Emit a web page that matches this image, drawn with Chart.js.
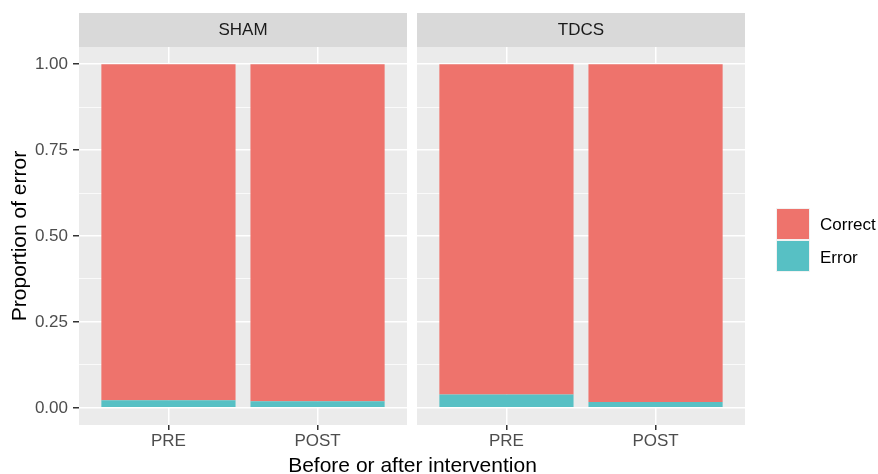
<!DOCTYPE html>
<html><head><meta charset="utf-8">
<script src="https://cdn.jsdelivr.net/npm/chart.js@4"></script>
<style>
html,body{margin:0;padding:0;background:#fff;width:878px;height:474px;overflow:hidden;font-family:"Liberation Sans",Arial,sans-serif;}
canvas{position:absolute;top:0;}
#c1{left:0;}
#c2{left:412px;}
.xt{position:absolute;left:0;width:825px;top:454px;text-align:center;font-size:21px;line-height:21px;color:#000;white-space:nowrap;}
.key{position:absolute;left:776px;width:32px;height:30px;border:1px solid #F2F2F2;}
.lt{position:absolute;left:820px;font-size:17px;line-height:20px;color:#000;white-space:nowrap;}
</style></head><body>
<canvas id="c1" width="412" height="474"></canvas>
<canvas id="c2" width="466" height="474"></canvas>
<div class="xt">Before or after intervention</div>
<div class="key" id="k1" style="top:208px;"></div>
<div class="key" id="k2" style="top:240px;"></div>
<div class="lt" style="top:215px;">Correct</div>
<div class="lt" style="top:248px;">Error</div>
<script>
const categories = ['PRE', 'POST'];
const facets = ['SHAM', 'TDCS'];
const shamError = [0.022, 0.019];
const shamCorrect = [0.978, 0.981];
const tdcsError = [0.039, 0.017];
const tdcsCorrect = [0.961, 0.983];
const yMajorTicks = [0, 0.25, 0.5, 0.75, 1];
const yMinorTicks = [0.125, 0.375, 0.625, 0.875];
const yTickLabels = ['0.00', '0.25', '0.50', '0.75', '1.00'];

const COLORS = { Error: '#57C0C4', Correct: '#EE736C' };
const FONT = '"Liberation Sans", Arial, sans-serif';
document.getElementById('k1').style.background = COLORS.Correct;
document.getElementById('k2').style.background = COLORS.Error;

function isMajor(v) { return yMajorTicks.some(m => Math.abs(m - v) < 1e-9); }

const panelBg = {
  id: 'panelBg',
  beforeDraw(chart) {
    const ctx = chart.ctx, a = chart.chartArea;
    ctx.save();
    ctx.fillStyle = '#EBEBEB';
    ctx.fillRect(a.left, a.top, a.right - a.left, a.bottom - a.top);
    const t = chart.titleBlock;
    if (t) {
      ctx.fillStyle = '#D9D9D9';
      ctx.fillRect(a.left, t.top, a.right - a.left, t.height);
    }
    ctx.restore();
  }
};

function makeChart(id, facet, errVals, corVals, showY, padding) {
  return new Chart(document.getElementById(id), {
    type: 'bar',
    data: {
      datasets: [
        { label: 'Error', data: categories.map((c, i) => ({ x: i + 1, y: errVals[i] })), backgroundColor: COLORS.Error, borderWidth: 0 },
        { label: 'Correct', data: categories.map((c, i) => ({ x: i + 1, y: corVals[i] })), backgroundColor: COLORS.Correct, borderWidth: 0 }
      ]
    },
    options: {
      responsive: false, animation: false, events: [],
      layout: { padding: padding },
      datasets: { bar: { barPercentage: 0.9, categoryPercentage: 1 } },
      plugins: {
        legend: { display: false }, tooltip: { enabled: false },
        title: { display: true, text: facet, fullSize: false, color: '#1A1A1A',
          font: { family: FONT, size: 17, weight: 'normal' }, padding: { top: 7, bottom: 6.6 } }
      },
      scales: {
        x: {
          type: 'linear', stacked: true, min: 0.4, max: 2.6, bounds: 'data', offset: false,
          afterBuildTicks(s) { s.ticks = categories.map((c, i) => ({ value: i + 1 })); },
          afterFit(s) { s.height = 49; },
          ticks: { callback: (v, i) => categories[i], color: '#4D4D4D', font: { family: FONT, size: 17 }, padding: 1, maxRotation: 0, autoSkip: false },
          grid: { offset: false, color: '#FFFFFF', lineWidth: 1.5, tickColor: '#333333', tickWidth: 1.5, tickLength: 5 },
          border: { display: false }
        },
        y: {
          type: 'linear', stacked: true, min: -0.05, max: 1.05, bounds: 'data',
          afterBuildTicks(s) { s.ticks = [...yMajorTicks, ...yMinorTicks].sort((a, b) => a - b).map(v => ({ value: v })); },
          afterFit(s) { s.width = showY ? 79 : 0; },
          title: { display: showY, text: 'Proportion of error', color: '#000000', font: { family: FONT, size: 21 }, padding: { top: 8, bottom: 0 } },
          ticks: { display: showY, autoSkip: false, color: '#4D4D4D', font: { family: FONT, size: 17 }, padding: 5,
            callback: (v) => { const k = yMajorTicks.findIndex(m => Math.abs(m - v) < 1e-9); return k >= 0 ? yTickLabels[k] : ''; } },
          grid: { color: '#FFFFFF',
            lineWidth: (c) => (c.tick && isMajor(c.tick.value)) ? 1.5 : 0.75,
            drawTicks: showY, tickLength: 6, tickWidth: 1.5,
            tickColor: (c) => (c.tick && isMajor(c.tick.value)) ? '#333333' : 'rgba(0,0,0,0)' },
          border: { display: false }
        }
      }
    },
    plugins: [panelBg]
  });
}

makeChart('c1', facets[0], shamError, shamCorrect, true, { left: 0, right: 5, top: 13, bottom: 0 });
makeChart('c2', facets[1], tdcsError, tdcsCorrect, false, { left: 5, right: 133, top: 13, bottom: 0 });
</script>
</body></html>
